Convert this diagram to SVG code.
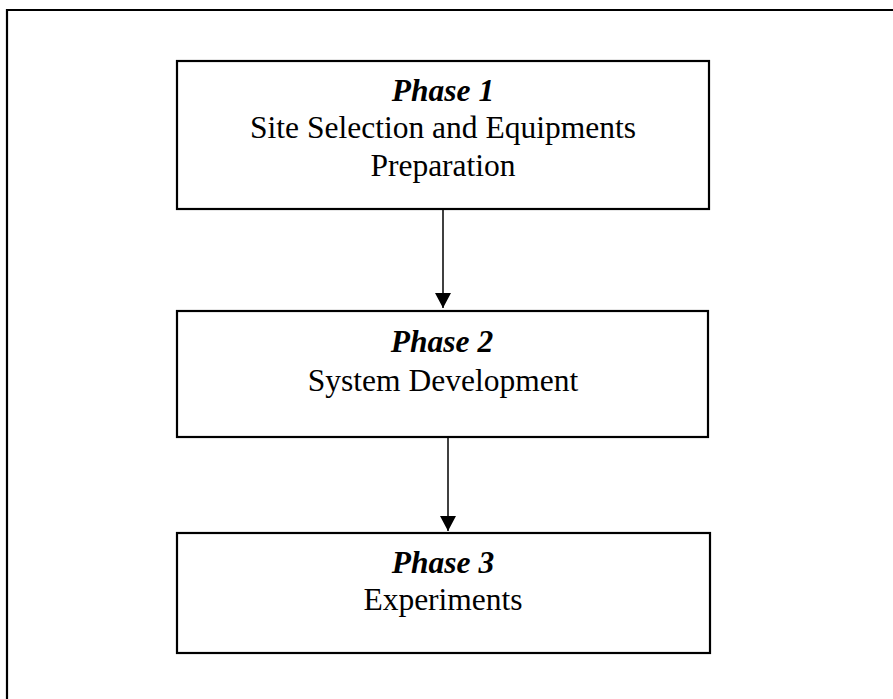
<svg xmlns="http://www.w3.org/2000/svg" width="893" height="699" viewBox="0 0 893 699">
<defs>
<marker id="ah" markerWidth="16" markerHeight="16" viewBox="0 0 16 16" refX="15" refY="8" orient="auto" markerUnits="userSpaceOnUse">
<path d="M0,0 L15,8 L0,16 Z" fill="#000"/>
</marker>
<style>
.box{fill:#fff;stroke:#000;stroke-width:2.2}
.t{font-family:"Liberation Serif","Times New Roman",serif;font-size:31.5px;text-anchor:middle;fill:#000}
.b{font-weight:bold;font-style:italic}
.conn{stroke:#000;stroke-width:1.5;fill:none}
</style>
</defs>
<rect width="893" height="699" fill="#fff"/>
<path d="M7,710 L7,10 L900,10" fill="none" stroke="#000" stroke-width="2.2"/>
<g id="phase1">
<rect class="box" x="177" y="61" width="532" height="148"/>
<text class="t b" x="443" y="101">Phase 1</text>
<text class="t" x="443" y="138">Site Selection and Equipments</text>
<text class="t" x="443" y="176">Preparation</text>
</g>
<g id="phase2">
<rect class="box" x="177" y="311" width="531" height="126"/>
<text class="t b" x="442" y="352">Phase 2</text>
<text class="t" x="443" y="391">System Development</text>
</g>
<g id="phase3">
<rect class="box" x="177" y="533" width="533" height="120"/>
<text class="t b" x="443" y="573">Phase 3</text>
<text class="t" x="443" y="610">Experiments</text>
</g>
<g id="connectors">
<line class="conn" x1="443" y1="210" x2="443" y2="308" marker-end="url(#ah)"/>
<line class="conn" x1="448" y1="438" x2="448" y2="531" marker-end="url(#ah)"/>
</g>
</svg>
